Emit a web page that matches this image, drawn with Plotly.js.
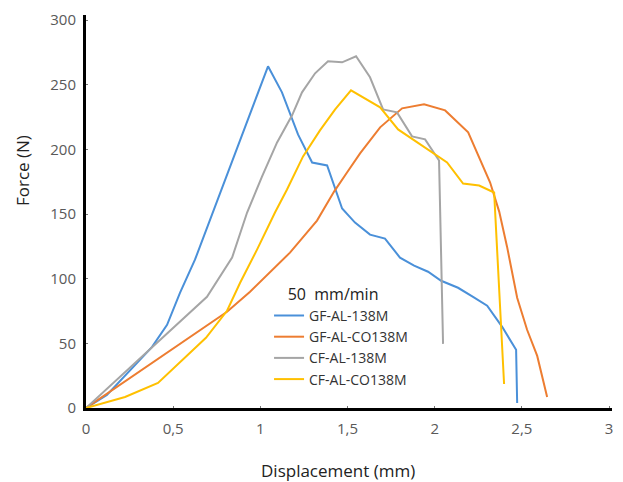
<!DOCTYPE html>
<html>
<head>
<meta charset="utf-8">
<script src="https://cdn.plot.ly/plotly-3.0.1.min.js"></script>
<style>html,body{margin:0;padding:0;background:#fff;}#chart{width:623px;height:482px;}</style>
</head>
<body>
<div id="chart"></div>
<script>
// GF-AL-138M
const gfAlX = [0, 0.120, 0.379, 0.465, 0.539, 0.625, 1.044, 1.124, 1.216, 1.297, 1.383, 1.469, 1.543, 1.629, 1.715, 1.801, 1.882, 1.962, 2.037, 2.134, 2.220, 2.301, 2.387, 2.467, 2.473];
const gfAlY = [0, 10.1, 47.3, 64.3, 89.1, 114.7, 264.3, 244.2, 211.6, 189.9, 187.6, 154.3, 143.4, 134.1, 131.0, 116.3, 110.1, 105.4, 98.4, 93.0, 86.0, 79.1, 62.8, 45.0, 3.9];
// GF-AL-CO138M
const gfCoX = [0, 0.809, 0.941, 1.073, 1.170, 1.325, 1.423, 1.497, 1.572, 1.687, 1.813, 1.939, 2.060, 2.192, 2.318, 2.370, 2.415, 2.473, 2.530, 2.588, 2.645];
const gfCoY = [0, 74.4, 89.9, 107.0, 120.2, 145.0, 167.4, 182.2, 196.9, 217.1, 231.8, 234.9, 230.2, 213.2, 174.4, 151.9, 124.8, 85.3, 60.5, 40.3, 8.5];
// CF-AL-138M
const cfAlX = [0, 0.694, 0.838, 0.924, 1.010, 1.096, 1.182, 1.239, 1.314, 1.388, 1.469, 1.549, 1.629, 1.704, 1.784, 1.870, 1.945, 2.025, 2.048];
const cfAlY = [0, 86.0, 116.3, 151.2, 179.1, 205.4, 226.4, 244.2, 258.9, 268.2, 267.4, 272.1, 255.8, 231.0, 228.7, 210.1, 207.8, 191.5, 49.6];
// CF-AL-CO138M
const cfCoX = [0, 0.224, 0.413, 0.688, 0.809, 0.884, 0.981, 1.084, 1.153, 1.245, 1.342, 1.429, 1.520, 1.687, 1.790, 2.071, 2.163, 2.255, 2.341, 2.398];
const cfCoY = [0, 8.5, 19.4, 54.3, 75.2, 96.9, 122.5, 151.2, 169.0, 194.6, 214.7, 231.0, 245.7, 232.6, 215.5, 189.9, 173.6, 172.1, 166.7, 18.6];

const seriesNames = ['GF-AL-138M', 'GF-AL-CO138M', 'CF-AL-138M', 'CF-AL-CO138M'];
const seriesColors = ['#4A90D9', '#ED7D31', '#A5A5A5', '#FFC000'];
const xTicks = [0, 0.5, 1, 1.5, 2, 2.5, 3];
const yTicks = [0, 50, 100, 150, 200, 250, 300];
const legendTitle = '50  mm/min';

const xs = [gfAlX, gfCoX, cfAlX, cfCoX];
const ys = [gfAlY, gfCoY, cfAlY, cfCoY];

const traces = seriesNames.map((n, i) => ({
  x: xs[i], y: ys[i], name: n, type: 'scatter', mode: 'lines',
  line: {color: seriesColors[i], width: 2}
}));

const layout = {
  width: 623, height: 482,
  margin: {l: 86, r: 11, t: 15, b: 74},
  paper_bgcolor: '#fff', plot_bgcolor: '#fff',
  separators: ', ',
  font: {family: 'Open Sans, sans-serif', color: '#595959'},
  xaxis: {
    range: [0, 3.017], tickvals: xTicks, showgrid: false, zeroline: false,
    showline: true, linecolor: '#000', linewidth: 3,
    ticks: 'inside', ticklen: 2, tickcolor: '#777', tickwidth: 1,
    tickfont: {size: 15, color: '#595959'}, ticklabelstandoff: 5
  },
  yaxis: {
    range: [0, 304], tickvals: yTicks, showgrid: false, zeroline: false,
    showline: true, linecolor: '#000', linewidth: 3,
    ticks: 'inside', ticklen: 2, tickcolor: '#777', tickwidth: 1,
    tickfont: {size: 15, color: '#595959'}, ticklabelstandoff: 4
  },
  showlegend: true,
  legend: {
    x: 0.348, y: 0.328, xanchor: 'left', yanchor: 'top',
    bgcolor: 'rgba(0,0,0,0)', borderwidth: 0,
    itemwidth: 30, tracegroupgap: 0,
    font: {size: 14, color: '#333', family: 'Open Sans, sans-serif'},
    title: {text: '&nbsp;&nbsp;&nbsp;&nbsp;' + legendTitle, font: {size: 16, color: '#222'}}
  },
  annotations: [
    {text: 'Force (N)', xref: 'paper', yref: 'paper', x: -0.122, y: 0.605, xanchor: 'center', yanchor: 'middle',
     textangle: -90, showarrow: false, font: {size: 17, color: '#222'}},
    {text: 'Displacement (mm)', xref: 'paper', yref: 'paper', x: 0.48, y: -0.158, xanchor: 'center', yanchor: 'middle',
     showarrow: false, font: {size: 17, color: '#222'}}
  ]
};

Plotly.newPlot('chart', traces, layout, {displayModeBar: false, staticPlot: true});
</script>
</body>
</html>
